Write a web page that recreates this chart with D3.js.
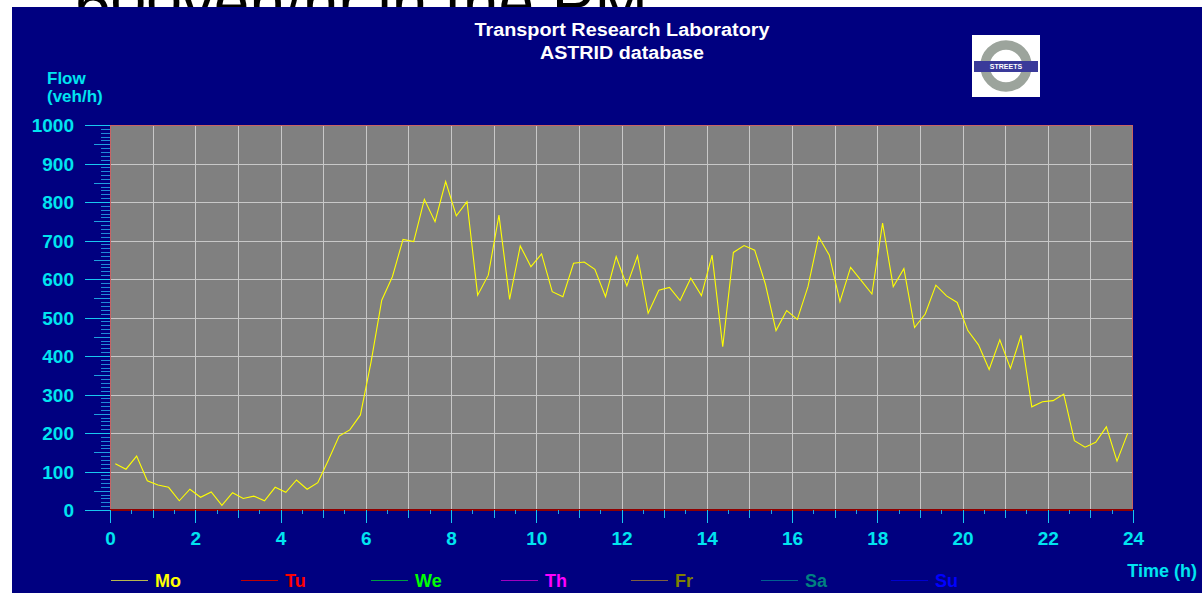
<!DOCTYPE html>
<html>
<head>
    <title>ASTRID flow</title>
    <script src="https://d3js.org/d3.v7.min.js"></script>
    <style>
        body {
            margin: 0;
            padding: 0;
            background-color: #fff;
        }
        svg text {
            font-family: Arial, 'Liberation Sans', sans-serif;
            font-weight: bold;
        }
    </style>
</head>
<body>
    <svg id="chart" width="1202" height="593"></svg>

    <script>
        // flow values, one every 15 min (mid-interval), Monday
        const mondayFlow = [
            120, 106, 140, 76, 65, 59, 24, 54, 33, 47, 12, 45, 30, 36, 24, 59,
            46, 78, 54, 71, 130, 192, 208, 247, 385, 545, 606, 703, 697, 807, 749, 853,
            764, 801, 558, 610, 766, 547, 686, 632, 665, 567, 554, 641, 644, 625, 554, 658,
            582, 660, 511, 571, 578, 544, 602, 557, 662, 424, 669, 687, 675, 587, 466, 518,
            495, 580, 710, 662, 541, 630, 596, 561, 745, 580, 627, 474, 509, 584, 556, 539,
            466, 429, 365, 442, 368, 454, 268, 281, 284, 301, 180, 163, 176, 216, 127, 199
        ];
        const mondayTimes = mondayFlow.map((d, i) => 0.125 + i * 0.25);

        const days = ["Mo", "Tu", "We", "Th", "Fr", "Sa", "Su"];
        const dayColors = ["#ffff00", "#ff0000", "#00ff00", "#ff00ff", "#808000", "#008080", "#0000ff"];
        const dayLineColors = ["#b8b850", "#c00000", "#00a040", "#a000c0", "#806040", "#006090", "#0000d0"];

        const yTicks = [0, 100, 200, 300, 400, 500, 600, 700, 800, 900, 1000];
        const xTicks = [0, 2, 4, 6, 8, 10, 12, 14, 16, 18, 20, 22, 24];

        const svg = d3.select("#chart");

        // white strip with the clipped slide text, then the navy panel
        svg.append("text")
            .attr("x", 75)
            .attr("y", 25)
            .style("font-size", "64px")
            .style("font-weight", "normal")
            .attr("fill", "#000")
            .text("600veh/hr in the PM");

        svg.append("rect")
            .attr("x", 12).attr("y", 7)
            .attr("width", 1190).attr("height", 586)
            .attr("fill", "#000080");

        const pLeft = 110, pRight = 1133, pTop = 125, pBottom = 510;

        const x = d3.scaleLinear().domain([0, 24]).range([pLeft, pRight]);
        const y = d3.scaleLinear().domain([0, 1000]).range([pBottom, pTop]);

        // plot area
        svg.append("rect")
            .attr("x", pLeft).attr("y", pTop)
            .attr("width", pRight - pLeft).attr("height", pBottom - pTop)
            .attr("fill", "#808080");

        const grid = svg.append("g").attr("shape-rendering", "crispEdges");
        grid.selectAll(".vgrid")
            .data(d3.range(1, 24))
            .join("line")
            .attr("x1", d => Math.round(x(d)) + 0.5).attr("x2", d => Math.round(x(d)) + 0.5)
            .attr("y1", pTop).attr("y2", pBottom)
            .attr("stroke", "#c8c8c8");
        grid.selectAll(".hgrid")
            .data(yTicks.slice(1, -1))
            .join("line")
            .attr("x1", pLeft).attr("x2", pRight)
            .attr("y1", d => Math.round(y(d)) + 0.5).attr("y2", d => Math.round(y(d)) + 0.5)
            .attr("stroke", "#c8c8c8");

        // frame
        svg.append("path")
            .attr("d", `M${pLeft + 0.5},${pBottom} V${pTop + 0.5} H${pRight - 0.5} V${pBottom}`)
            .attr("fill", "none")
            .attr("stroke", "#c86464")
            .attr("shape-rendering", "crispEdges");
        svg.append("line")
            .attr("x1", pLeft).attr("x2", pRight)
            .attr("y1", pBottom).attr("y2", pBottom)
            .attr("stroke", "#900000")
            .attr("stroke-width", 2);

        // y axis ticks
        function yAxis(values, size, color) {
            const g = svg.append("g")
                .attr("transform", `translate(${pLeft},0)`)
                .call(d3.axisLeft(y).tickValues(values).tickSize(size).tickFormat(""));
            g.select(".domain").remove();
            g.selectAll("line").attr("stroke", color).attr("shape-rendering", "crispEdges");
            return g;
        }
        yAxis(d3.range(10, 1000, 10).filter(d => d % 50 != 0), 9, "#1e8ad8");
        yAxis(d3.range(50, 1000, 100), 16, "#1ea0e0");
        const yMajor = yAxis(yTicks, 25, "#18c8f0");
        yMajor.selectAll("text")
            .attr("x", -36)
            .attr("dy", "0.36em")
            .attr("fill", "#00e4f0")
            .style("font-size", "19px")
            .text(d => d);

        // x axis ticks
        function xAxis(values, size, color) {
            const g = svg.append("g")
                .attr("transform", `translate(0,${pBottom})`)
                .call(d3.axisBottom(x).tickValues(values).tickSize(size).tickFormat(""));
            g.select(".domain").remove();
            g.selectAll("line").attr("stroke", color).attr("shape-rendering", "crispEdges");
            return g;
        }
        xAxis(d3.range(0.5, 24, 1), 4, "#20a8e0");
        xAxis(d3.range(1, 24, 2), 8, "#20b8e8");
        const xMajor = xAxis(xTicks, 13, "#18c8f0");
        xMajor.selectAll("text")
            .attr("y", 22)
            .attr("dy", "0.71em")
            .attr("fill", "#00e4f0")
            .style("font-size", "19px")
            .text(d => d);

        // Monday series
        const line = d3.line()
            .x((d, i) => x(mondayTimes[i]))
            .y(d => y(d));
        svg.append("path")
            .datum(mondayFlow)
            .attr("d", line)
            .attr("fill", "none")
            .attr("stroke", "#ffff00")
            .attr("stroke-width", 1.1);

        // titles
        svg.append("text")
            .attr("x", 622).attr("y", 36)
            .attr("text-anchor", "middle")
            .attr("fill", "#fff")
            .style("font-size", "18px")
            .attr("textLength", 295).attr("lengthAdjust", "spacingAndGlyphs")
            .text("Transport Research Laboratory");
        svg.append("text")
            .attr("x", 622).attr("y", 59)
            .attr("text-anchor", "middle")
            .attr("fill", "#fff")
            .style("font-size", "18px")
            .attr("textLength", 164).attr("lengthAdjust", "spacingAndGlyphs")
            .text("ASTRID database");

        svg.append("text")
            .attr("x", 47).attr("y", 84)
            .attr("fill", "#00e4f0")
            .style("font-size", "17px")
            .text("Flow");
        svg.append("text")
            .attr("x", 47).attr("y", 102)
            .attr("fill", "#00e4f0")
            .style("font-size", "17px")
            .text("(veh/h)");

        svg.append("text")
            .attr("x", 1197).attr("y", 577)
            .attr("text-anchor", "end")
            .attr("fill", "#00e4f0")
            .style("font-size", "18px")
            .text("Time (h)");

        // logo
        const logo = svg.append("g");
        logo.append("rect")
            .attr("x", 972).attr("y", 35).attr("width", 68).attr("height", 62)
            .attr("fill", "#fff");
        logo.append("circle")
            .attr("cx", 1006).attr("cy", 66).attr("r", 21)
            .attr("fill", "none")
            .attr("stroke", "#9ca49c")
            .attr("stroke-width", 9.5);
        logo.append("rect")
            .attr("x", 974).attr("y", 61).attr("width", 64).attr("height", 11)
            .attr("fill", "#3a3a9a");
        logo.append("text")
            .attr("x", 1006).attr("y", 69)
            .attr("text-anchor", "middle")
            .attr("fill", "#fff")
            .style("font-size", "7px")
            .text("STREETS");

        // legend
        const legend = svg.append("g")
            .selectAll("g")
            .data(days)
            .join("g")
            .attr("transform", (d, i) => `translate(${111 + i * 130},580)`);
        legend.append("line")
            .attr("x1", 0).attr("x2", 37)
            .attr("y1", 0.5).attr("y2", 0.5)
            .attr("stroke", (d, i) => dayLineColors[i])
            .attr("shape-rendering", "crispEdges");
        legend.append("text")
            .attr("x", 44).attr("y", 7)
            .attr("fill", (d, i) => dayColors[i])
            .style("font-size", "18px")
            .text(d => d);
    </script>
</body>
</html>
